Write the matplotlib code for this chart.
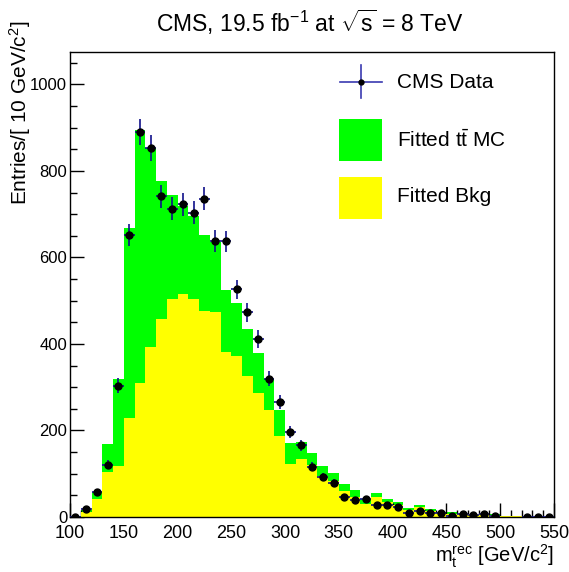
import numpy as np
import matplotlib
matplotlib.use("Agg")
import matplotlib.pyplot as plt
from matplotlib.patches import Rectangle
from matplotlib.lines import Line2D
from matplotlib.ticker import MultipleLocator

plt.rcParams['font.family'] = ['Liberation Sans', 'DejaVu Sans']
plt.rcParams['mathtext.fontset'] = 'custom'
plt.rcParams['mathtext.rm'] = 'Liberation Sans'
plt.rcParams['mathtext.it'] = 'Liberation Sans:italic'
plt.rcParams['mathtext.bf'] = 'Liberation Sans:bold'
plt.rcParams['mathtext.sf'] = 'Liberation Sans'

# ---- data (10 GeV bins from 100 to 550) ----
bin_edges = list(range(100, 560, 10))
bkg_fit = [1, 11, 42, 104, 118, 230, 310, 392, 458, 503, 516, 505, 476, 474, 382,
           372, 326, 287, 247, 187, 122, 134, 120, 95, 83, 61, 47, 30, 47, 35,
           28, 16, 22, 15, 9, 8, 6, 6, 6, 5, 3, 3, 0, 0, 0]
ttbar_fit = [1, 5, 15, 64, 200, 439, 585, 461, 319, 242, 203, 191, 175, 162, 142,
             122, 108, 91, 72, 60, 49, 40, 29, 24, 19, 15, 15, 11, 8, 6,
             6, 5, 5, 3, 3, 3, 2, 2, 1, 1, 0, 0, 0, 0, 0]
data_counts = [0, 18, 57, 121, 303, 652, 891, 853, 741, 713, 723, 703, 736, 639, 637,
               526, 473, 411, 320, 265, 197, 166, 116, 92, 78, 47, 40, 42, 28, 28,
               23, 10, 15, 9, 10, 2, 7, 5, 6, 3, None, None, 1, 1, 1]

x_ticks = [100, 150, 200, 250, 300, 350, 400, 450, 500, 550]
y_ticks = [0, 200, 400, 600, 800, 1000]
legend_labels = ['CMS Data', r'Fitted $\mathrm{t\bar{t}}$ MC', 'Fitted Bkg']

edges = np.array(bin_edges, dtype=float)
centers = 0.5 * (edges[:-1] + edges[1:])
halfw = 0.5 * np.diff(edges)
bkg = np.array(bkg_fit, dtype=float)
tt = np.array(ttbar_fit, dtype=float)
dat = np.array([np.nan if v is None else v for v in data_counts], dtype=float)

W, H = 569, 572
fig = plt.figure(figsize=(W/100, H/100), dpi=100)
ax = fig.add_axes([70/W, 1-517/H, 484/W, 465/H])

def fx(x):
    return x / W

def fy(y):
    return 1 - y / H

GREEN = '#00ff00'
YELLOW = '#ffff00'
ECOL = '#10108a'
ax.stairs(bkg + tt, edges, fill=True, color=GREEN, edgecolor='none', zorder=1)
ax.stairs(bkg, edges, fill=True, color=YELLOW, edgecolor='none', zorder=2)

mask = ~np.isnan(dat)
ax.errorbar(centers[mask], dat[mask], yerr=np.sqrt(dat[mask]), xerr=halfw[mask],
            fmt='o', color='black', ms=5, ecolor=ECOL, elinewidth=1.2,
            capsize=0, zorder=3)

ax.set_xlim(100, 550)
ax.set_ylim(0, 1075)
ax.set_xticks(x_ticks)
ax.set_yticks(y_ticks)
ax.xaxis.set_minor_locator(MultipleLocator(10))
ax.yaxis.set_minor_locator(MultipleLocator(50))
ax.tick_params(which='both', direction='in', top=False, right=False, colors='black')
ax.tick_params(which='major', length=10, width=1.0)
ax.tick_params(which='minor', length=5, width=1.0)
ax.tick_params(axis='x', labelsize=13, pad=6)
ax.tick_params(axis='y', labelsize=12, pad=2)
for s in ax.spines.values():
    s.set_linewidth(1.0)

fig.text(fx(310), fy(22), r'CMS, 19.5 fb$^{-1}$ at $\sqrt{\mathrm{s}}$ = 8 TeV',
         ha='center', va='center', fontsize=16.5)
fig.text(fx(20), fy(20), r'Entries/[ 10 GeV/c$^{2}$]', rotation=90,
         ha='center', va='top', fontsize=15)
fig.text(fx(554), fy(556), r'$\mathrm{m}_{\mathrm{t}}^{\mathrm{rec}}$ [GeV/c$^{2}$]',
         ha='right', va='center', fontsize=14.5)

# ---- legend (drawn by hand, ROOT-style) ----
tr = fig.transFigure
fig.add_artist(Line2D([fx(340), fx(382)], [fy(82), fy(82)], color='#3a3ab0', lw=1.2, transform=tr))
fig.add_artist(Line2D([fx(361), fx(361)], [fy(65), fy(98)], color='#3a3ab0', lw=1.2, transform=tr))
fig.add_artist(Line2D([fx(361)], [fy(82)], marker='o', ms=3.5, color='black', transform=tr))
fig.add_artist(Rectangle((fx(339), fy(161)), fx(43), 42/H, facecolor=GREEN,
                         edgecolor='none', transform=tr))
fig.add_artist(Rectangle((fx(339), fy(219)), fx(43), 42/H, facecolor=YELLOW,
                         edgecolor='none', transform=tr))
for lab, yc in zip(legend_labels, [82, 140, 197]):
    fig.text(fx(397), fy(yc), lab, ha='left', va='center', fontsize=15)

fig.savefig('out.png', dpi=100)
